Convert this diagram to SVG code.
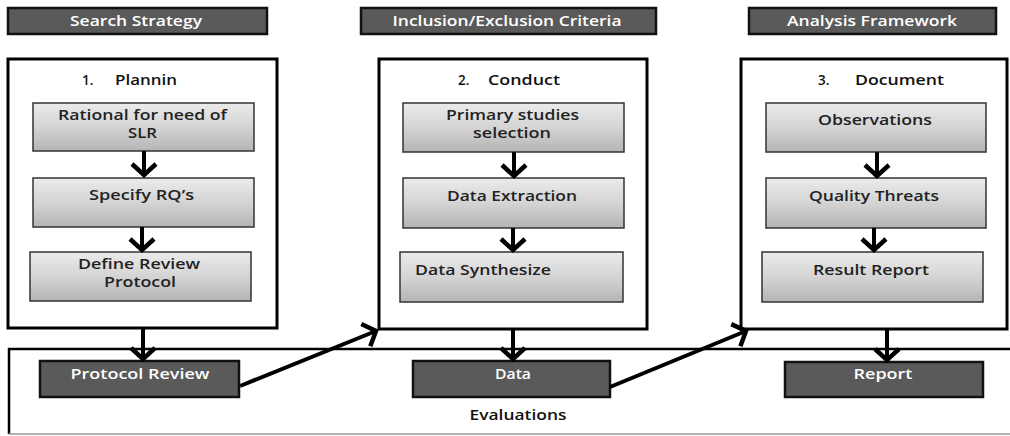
<svg xmlns="http://www.w3.org/2000/svg" width="1010" height="436" viewBox="0 0 1010 436">
<defs>
<linearGradient id="g" x1="0" y1="0" x2="0" y2="1">
<stop offset="0" stop-color="#ebebeb"/>
<stop offset="0.5" stop-color="#d4d4d4"/>
<stop offset="1" stop-color="#b4b4b4"/>
</linearGradient>
<marker id="ah" markerUnits="userSpaceOnUse" markerWidth="28" markerHeight="28" refX="14" refY="14" orient="auto" viewBox="0 0 28 28">
<path d="M3 2 L14 14 L3 26" fill="none" stroke="#000" stroke-width="4.5" stroke-linejoin="miter"/>
</marker>
</defs>
<style>
.hdr{fill:#5a5a5a;stroke:#111;stroke-width:2.5}
.hdrt{fill:#fff;font-family:"Open Sans",sans-serif;font-weight:600;font-size:13.5px;text-anchor:middle}
.panel{fill:#fff;stroke:#000;stroke-width:3}
.ptitle{fill:#111;font-family:"Open Sans",sans-serif;font-weight:600;font-size:13.5px}
.box{fill:url(#g);stroke:#333;stroke-width:1.5}
.boxt{fill:#222;font-family:"Open Sans",sans-serif;font-weight:600;font-size:13.5px;text-anchor:middle}
.dk{fill:#5a5a5a;stroke:#111;stroke-width:2.5}
.conn{stroke:#000;stroke-width:4;fill:none;marker-end:url(#ah)}
.ev{fill:#111;font-family:"Open Sans",sans-serif;font-weight:600;font-size:13.5px;text-anchor:middle}
</style>
<rect width="1010" height="436" fill="#fff"/>

<g id="hdr-search"><rect class="hdr" x="8" y="8" width="259" height="26"/><text class="hdrt" x="136" y="26" textLength="132" lengthAdjust="spacingAndGlyphs">Search Strategy</text></g>
<g id="hdr-inclusion"><rect class="hdr" x="361" y="8" width="295" height="26"/><text class="hdrt" x="507" y="26" textLength="229" lengthAdjust="spacingAndGlyphs">Inclusion/Exclusion Criteria</text></g>
<g id="hdr-analysis"><rect class="hdr" x="749" y="8" width="247" height="26"/><text class="hdrt" x="872" y="26" textLength="170" lengthAdjust="spacingAndGlyphs">Analysis Framework</text></g>

<g id="evaluations"><path d="M1012 349 L9 349 L9 434" fill="none" stroke="#000" stroke-width="2.5"/><line x1="9" y1="434" x2="1010" y2="434" stroke="#999" stroke-width="1.5"/><text class="ev" x="518" y="420" textLength="97" lengthAdjust="spacingAndGlyphs">Evaluations</text></g>

<g id="panel-plan"><rect class="panel" x="8" y="59" width="269" height="269"/><text class="ptitle" x="82" y="85">1.</text><text class="ptitle" x="115" y="85" textLength="62" lengthAdjust="spacingAndGlyphs">Plannin</text></g>
<g id="panel-conduct"><rect class="panel" x="379" y="59" width="268" height="270"/><text class="ptitle" x="458" y="85">2.</text><text class="ptitle" x="488" y="85" textLength="72" lengthAdjust="spacingAndGlyphs">Conduct</text></g>
<g id="panel-document"><rect class="panel" x="741" y="59" width="266" height="270"/><text class="ptitle" x="818" y="85">3.</text><text class="ptitle" x="855" y="85" textLength="89" lengthAdjust="spacingAndGlyphs">Document</text></g>

<g id="rational"><rect class="box" x="33" y="103" width="221" height="48"/><text class="boxt" x="142.5" y="120" textLength="169" lengthAdjust="spacingAndGlyphs">Rational for need of</text><text class="boxt" x="142.5" y="138" textLength="29" lengthAdjust="spacingAndGlyphs">SLR</text></g>
<g id="specify"><rect class="box" x="33" y="178" width="221" height="49"/><text class="boxt" x="141.5" y="200" textLength="105" lengthAdjust="spacingAndGlyphs">Specify RQ’s</text></g>
<g id="define"><rect class="box" x="30" y="252" width="221" height="49"/><text class="boxt" x="139" y="269" textLength="122" lengthAdjust="spacingAndGlyphs">Define Review</text><text class="boxt" x="140" y="287" textLength="72" lengthAdjust="spacingAndGlyphs">Protocol</text></g>

<g id="primary"><rect class="box" x="403" y="103" width="221" height="49"/><text class="boxt" x="512.5" y="120" textLength="133" lengthAdjust="spacingAndGlyphs">Primary studies</text><text class="boxt" x="512" y="138" textLength="78" lengthAdjust="spacingAndGlyphs">selection</text></g>
<g id="extraction"><rect class="box" x="403" y="178" width="221" height="50"/><text class="boxt" x="512" y="201" textLength="130" lengthAdjust="spacingAndGlyphs">Data Extraction</text></g>
<g id="synthesize"><rect class="box" x="400" y="252" width="223" height="50"/><text class="boxt" x="483" y="275" textLength="136" lengthAdjust="spacingAndGlyphs">Data Synthesize</text></g>

<g id="observations"><rect class="box" x="766" y="103" width="220" height="49"/><text class="boxt" x="875" y="125" textLength="114" lengthAdjust="spacingAndGlyphs">Observations</text></g>
<g id="quality"><rect class="box" x="766" y="178" width="220" height="50"/><text class="boxt" x="874" y="201" textLength="130" lengthAdjust="spacingAndGlyphs">Quality Threats</text></g>
<g id="result"><rect class="box" x="762" y="252" width="221" height="50"/><text class="boxt" x="871" y="275" textLength="116" lengthAdjust="spacingAndGlyphs">Result Report</text></g>

<g id="protocol-review"><rect class="dk" x="40" y="361" width="199" height="36"/><text class="hdrt" x="140" y="379" textLength="139" lengthAdjust="spacingAndGlyphs">Protocol Review</text></g>
<g id="data"><rect class="dk" x="413" y="361" width="197" height="36"/><text class="hdrt" x="513" y="379" textLength="36" lengthAdjust="spacingAndGlyphs">Data</text></g>
<g id="report"><rect class="dk" x="785" y="362" width="198" height="35"/><text class="hdrt" x="883" y="379" textLength="59" lengthAdjust="spacingAndGlyphs">Report</text></g>

<g id="connectors">
<line class="conn" x1="144" y1="151" x2="144" y2="175"/>
<line class="conn" x1="142" y1="227" x2="142" y2="250"/>
<line class="conn" x1="514" y1="152" x2="514" y2="176"/>
<line class="conn" x1="513" y1="228" x2="513" y2="250"/>
<line class="conn" x1="877" y1="152" x2="877" y2="176"/>
<line class="conn" x1="874" y1="228" x2="874" y2="250"/>
<line class="conn" x1="143" y1="329" x2="143" y2="359"/>
<line class="conn" x1="513" y1="330" x2="513" y2="359"/>
<line class="conn" x1="887" y1="330" x2="887" y2="360"/>
<line class="conn" x1="240" y1="386" x2="376" y2="331"/>
<line class="conn" x1="610" y1="387" x2="746" y2="331"/>
</g>
</svg>
